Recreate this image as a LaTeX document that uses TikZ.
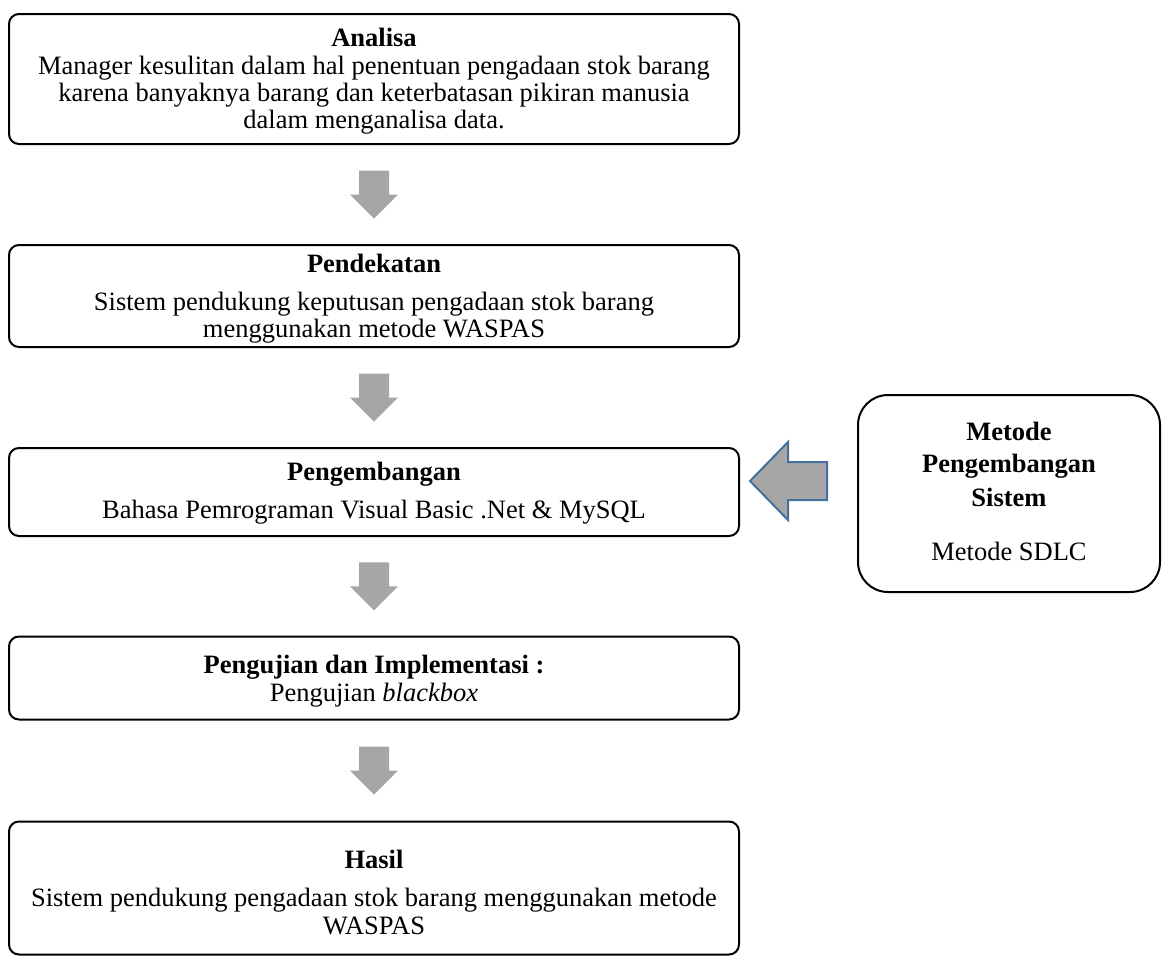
\documentclass[tikz,border=0pt]{standalone}
\usepackage{fontspec}
\setmainfont{Liberation Serif}
\usetikzlibrary{calc}
\definecolor{arrowgray}{HTML}{A6A6A6}
\definecolor{arrowblue}{HTML}{41719C}
\tikzset{
  box/.style={draw=black, line width=2pt, rounded corners=10pt, inner sep=0pt},
  sidebox/.style={draw=black, line width=2pt, rounded corners=30pt, inner sep=0pt},
  txt/.style={anchor=base, inner sep=0pt, font=\fontsize{26.5}{26.5}\selectfont},
  ttl/.style={txt, font=\fontsize{26.5}{26.5}\selectfont\bfseries},
  downarrow/.pic={
    \fill[arrowgray] (-15,-24) -- (15,-24) -- (15,0) -- (24,0) -- (0,24) -- (-24,0) -- (-15,0) -- cycle;
  }
}
\begin{document}
\begin{tikzpicture}[x=1pt, y=-1pt]
\useasboundingbox (0,0) rectangle (1162,956);
% boxes
\node[box, minimum width=730pt, minimum height=130pt] (b1) at (374,79) {};
\node[box, minimum width=730pt, minimum height=102pt] (b2) at (374,296) {};
\node[box, minimum width=730pt, minimum height=88pt] (b3) at (374,492) {};
\node[box, minimum width=730pt, minimum height=83pt] (b4) at (374,678) {};
\node[box, minimum width=730pt, minimum height=133pt] (b5) at (374,888) {};
\node[sidebox, minimum width=302pt, minimum height=197pt] (s) at (1009,493.5) {};
% texts
\node[ttl] (t1) at (374,46) {Analisa};
\node[txt] (t1a) at (374,74) {Manager kesulitan dalam hal penentuan pengadaan stok barang};
\node[txt] (t1b) at (374,101) {karena banyaknya barang dan keterbatasan pikiran manusia};
\node[txt] (t1c) at (374,128) {dalam menganalisa data.};
\node[ttl] (t2) at (374,272) {Pendekatan};
\node[txt] (t2a) at (374,310) {Sistem pendukung keputusan pengadaan stok barang};
\node[txt] (t2b) at (374,337) {menggunakan metode WASPAS};
\node[ttl] (t3) at (374,480) {Pengembangan};
\node[txt] (t3a) at (374,518) {Bahasa Pemrograman Visual Basic .Net \& MySQL};
\node[ttl] (t4) at (374,673) {Pengujian dan Implementasi :};
\node[txt] (t4a) at (374,701) {Pengujian \textit{blackbox}};
\node[ttl] (t5) at (374,868) {Hasil};
\node[txt] (t5a) at (374,906) {Sistem pendukung pengadaan stok barang menggunakan metode};
\node[txt] (t5b) at (374,934) {WASPAS};
\node[ttl] (s1) at (1009,440) {Metode};
\node[ttl] (s2) at (1009,472) {Pengembangan};
\node[ttl] (s3) at (1009,506) {Sistem};
\node[txt] (s4) at (1009,560) {Metode SDLC};
% down arrows between boxes
\path ($(b1.south)!0.5!(b2.north)$) pic {downarrow};
\path ($(b2.south)!0.5!(b3.north)$) pic {downarrow};
\path ($(b3.south)!0.5!(b4.north)$) pic {downarrow};
\path ($(b4.south)!0.5!(b5.north)$) pic {downarrow};
% left arrow from side box to b3
\filldraw[fill=arrowgray, draw=arrowblue, line width=2pt, line join=miter]
  (750,481) -- (788,442) -- (788,462) -- (827,462) -- (827,500) -- (788,500) -- (788,520) -- cycle;
\end{tikzpicture}
\end{document}
